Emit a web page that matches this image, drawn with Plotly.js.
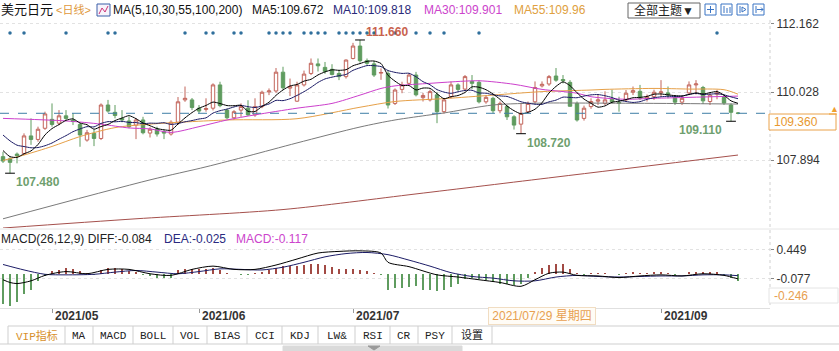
<!DOCTYPE html>
<html><head><meta charset="utf-8">
<script src="https://cdn.plot.ly/plotly-3.0.1.min.js"></script>
<style>html,body{margin:0;padding:0;background:#fff;}#chart{width:839px;height:351px;}</style>
</head><body><div id="chart"></div>
<script>
// ---------------- DATA ----------------
const dates = [
"2021-04-22","2021-04-23","2021-04-26","2021-04-27","2021-04-28","2021-04-29","2021-04-30",
"2021-05-03","2021-05-04","2021-05-05","2021-05-06","2021-05-07","2021-05-10","2021-05-11","2021-05-12","2021-05-13","2021-05-14","2021-05-17","2021-05-18","2021-05-19","2021-05-20","2021-05-21","2021-05-24","2021-05-25","2021-05-26","2021-05-27","2021-05-28","2021-05-31",
"2021-06-01","2021-06-02","2021-06-03","2021-06-04","2021-06-07","2021-06-08","2021-06-09","2021-06-10","2021-06-11","2021-06-14","2021-06-15","2021-06-16","2021-06-17","2021-06-18","2021-06-21","2021-06-22","2021-06-23","2021-06-24","2021-06-25","2021-06-28","2021-06-29","2021-06-30",
"2021-07-01","2021-07-02","2021-07-05","2021-07-06","2021-07-07","2021-07-08","2021-07-09","2021-07-12","2021-07-13","2021-07-14","2021-07-15","2021-07-16","2021-07-19","2021-07-20","2021-07-21","2021-07-22","2021-07-23","2021-07-26","2021-07-27","2021-07-28","2021-07-29","2021-07-30",
"2021-08-02","2021-08-03","2021-08-04","2021-08-05","2021-08-06","2021-08-09","2021-08-10","2021-08-11","2021-08-12","2021-08-13","2021-08-16","2021-08-17","2021-08-18","2021-08-19","2021-08-20","2021-08-23","2021-08-24","2021-08-25","2021-08-26","2021-08-27","2021-08-30","2021-08-31",
"2021-09-01","2021-09-02","2021-09-03","2021-09-06","2021-09-07","2021-09-08","2021-09-09","2021-09-10","2021-09-13","2021-09-14","2021-09-15","2021-09-16"];

const open = [108.00,107.93,108.08,108.10,108.65,108.54,108.89,
109.17,109.05,109.28,109.15,109.01,108.52,108.73,108.57,109.62,109.39,109.20,109.12,108.99,109.15,108.74,108.87,108.78,108.71,109.08,109.78,109.78,
109.52,109.48,109.52,110.25,109.46,109.22,109.46,109.52,109.31,109.57,110.03,110.06,110.65,110.15,109.74,110.25,110.61,110.91,110.80,110.74,110.61,110.51,
111.08,111.47,111.01,110.91,110.62,110.61,109.67,110.11,110.30,110.56,109.85,109.78,109.94,109.41,109.88,110.25,110.12,110.36,110.33,109.72,109.83,109.44,
109.57,109.25,109.02,109.41,109.72,110.22,110.28,110.53,110.42,110.33,109.67,109.20,109.57,109.74,109.67,109.80,109.70,109.78,110.02,110.05,109.83,109.88,
110.00,110.00,109.86,109.71,110.00,110.25,110.17,109.73,109.96,109.86,109.62,109.37];
const high = [108.15,107.98,108.13,108.73,109.20,108.94,109.41,
109.67,109.46,109.46,109.36,109.05,108.84,108.84,109.67,109.78,109.62,109.46,109.25,109.20,109.25,108.92,108.94,108.84,109.14,109.87,110.20,109.84,
109.62,109.83,110.30,110.35,109.50,109.46,109.67,109.77,109.83,110.07,110.14,110.78,110.82,110.45,110.35,110.70,111.08,111.08,110.97,110.90,110.72,111.05,
111.57,111.66,111.08,111.00,110.77,110.70,110.14,110.35,110.61,110.66,110.00,110.10,110.03,109.84,110.36,110.30,110.56,110.56,110.40,109.93,109.88,109.73,
109.62,109.30,109.68,109.73,110.36,110.36,110.56,110.78,110.56,110.40,109.73,109.60,109.83,109.95,110.05,110.10,109.88,110.09,110.20,110.25,109.95,110.10,
110.40,110.20,109.93,109.90,110.36,110.40,110.22,109.98,110.10,109.95,109.67,109.40];
const low = [107.80,107.48,107.79,108.05,108.37,108.47,108.84,
108.94,108.99,109.15,108.99,108.31,108.47,108.33,108.52,109.38,109.20,109.08,108.89,108.55,108.70,108.60,108.63,108.55,108.66,109.00,109.72,109.46,
109.36,109.41,109.45,109.55,109.18,109.15,109.25,109.28,109.25,109.52,109.93,110.00,110.10,109.90,109.72,110.20,110.56,110.67,110.60,110.55,110.40,110.45,
111.05,110.95,110.88,110.50,110.41,109.51,109.62,109.99,110.25,109.89,109.73,109.73,109.05,109.35,109.83,110.05,110.05,110.12,109.67,109.66,109.36,109.36,
109.15,108.85,108.72,109.36,109.67,110.17,110.22,110.35,110.30,109.57,109.10,109.13,109.50,109.62,109.62,109.67,109.41,109.73,109.93,109.78,109.73,109.78,
109.88,109.83,109.62,109.62,109.93,109.95,109.65,109.62,109.80,109.62,109.11,109.33];
const close = [107.86,107.82,108.03,108.65,108.54,108.86,109.34,
109.01,109.28,109.20,109.10,108.68,108.75,108.57,109.62,109.43,109.29,109.15,108.94,109.15,108.75,108.86,108.71,108.74,109.08,109.72,109.83,109.54,
109.43,109.51,110.25,109.60,109.22,109.41,109.57,109.31,109.57,110.02,110.06,110.65,110.16,110.20,110.25,110.59,110.93,110.85,110.67,110.58,110.51,111.03,
111.47,111.01,110.93,110.56,110.64,109.62,110.09,110.25,110.56,109.94,109.92,110.04,109.41,109.78,110.25,110.11,110.51,110.30,109.72,109.86,109.44,109.67,
109.25,108.99,109.36,109.67,110.17,110.27,110.51,110.40,110.38,109.58,109.15,109.52,109.73,109.78,109.78,109.72,109.68,109.99,110.07,109.83,109.88,110.02,
110.03,109.93,109.71,109.83,110.25,110.28,109.75,109.93,110.00,109.68,109.39,109.36];
// closes before the visible window (seed for MA5 / MA10)
const priorCloses = [109.65,109.39,109.07,108.93,108.78,108.78,108.15,108.09,108.08];

// long moving averages (candle number, value)
const ma30K = [1,10,15,19,22,25,29,33,37,43,48,52,55,57,62,64,69,74,78,83,85,90,94,99,106];
const ma30V = [109.20,109.12,109.02,108.90,108.87,108.76,108.94,109.15,109.31,109.52,109.67,109.93,110.14,110.22,110.30,110.33,110.38,110.27,110.11,109.99,109.88,109.80,109.83,109.86,109.90];
const ma55K = [1,4,8,12,17,22,33,43,52,57,64,71,78,85,87,94,99,104,106];
const ma55V = [107.88,108.05,108.32,108.63,108.91,109.02,109.15,109.19,109.55,109.73,109.82,109.93,110.04,110.09,110.11,110.14,110.12,110.10,109.96];
const ma100K = [1,22,30,36,43,52,57,62,64,71,78,85,95,106];
const ma100V = [106.05,107.27,107.68,108.02,108.43,108.93,109.15,109.31,109.37,109.62,109.68,109.68,109.67,109.65];
const ma200K = [1,20,41,60,80,106];
const ma200V = [105.76,106.05,106.34,106.83,107.36,108.05];

// MACD histogram, one per candle
const macdHist = [-0.55,-0.58,-0.51,-0.37,-0.28,-0.13,-0.04,0.06,0.07,0.11,0.09,0.06,0.02,-0.02,0.07,0.11,0.11,0.09,0.06,0.04,
-0.02,-0.04,-0.06,-0.07,-0.06,0.07,0.09,0.09,0.09,0.09,0.11,0.07,0.02,0.01,-0.02,-0.01,0.02,0.04,0.07,0.11,
0.15,0.15,0.15,0.17,0.18,0.18,0.17,0.13,0.09,0.09,0.09,0.07,0.06,0.02,-0.02,-0.28,-0.26,-0.26,-0.24,-0.22,
-0.28,-0.29,-0.31,-0.29,-0.24,-0.17,-0.09,-0.07,-0.09,-0.11,-0.15,-0.17,-0.18,-0.20,-0.18,-0.07,0.04,0.11,0.17,0.18,
0.18,0.09,0.02,-0.02,0.02,0.02,0.02,0.00,-0.02,0.02,0.04,0.02,0.02,0.04,0.04,0.02,-0.02,0.00,0.04,0.05,
0.04,0.04,0.04,-0.02,-0.06,-0.117];
const deaK = [1,4,7,10,14,17,20,23,26,29,32,35,38,41,44,47,50,53,56,59,62,65,68,71,74,77,80,83,86,89,92,95,98,101,104,106];
const deaV = [0.18,0.08,0.0,-0.01,0.0,0.04,0.07,0.04,0.01,0.05,0.10,0.09,0.08,0.13,0.22,0.32,0.38,0.40,0.36,0.26,0.15,0.03,-0.04,-0.07,-0.12,-0.12,-0.05,-0.02,-0.04,-0.05,-0.04,-0.03,-0.03,-0.01,-0.01,-0.025];
const diffK = [1,2,3,5,7,10,13,16,19,22,25,28,31,34,37,40,43,46,49,52,55,56,59,63,66,69,72,75,77,79,81,83,86,89,92,95,98,101,104,106];
const diffV = [-0.10,-0.15,-0.17,-0.12,-0.02,0.05,0.01,0.09,0.09,0.01,-0.02,0.09,0.15,0.09,0.09,0.17,0.28,0.39,0.42,0.43,0.39,0.22,0.14,-0.01,-0.05,-0.10,-0.15,-0.22,-0.10,0.02,0.04,-0.02,-0.03,-0.06,-0.03,-0.01,-0.03,0.01,-0.02,-0.084];

// signal dots along the top (candle numbers)
const signalK = [2,4,10,16,17,27,30,31,34,35,39,40,41,42,44,45,46,47,49,50,51,52,53,54,57,60,62,64,69,103];

// texts
const priceTicks = [107.894,110.028,112.162];
const priceTickText = ["107.894","110.028","112.162"];
const macdTicks = [0.449,-0.077];
const macdTickText = ["0.449","-0.077"];
const monthTickDates = ["2021-05-03","2021-06-01","2021-07-01","2021-09-01"];
const monthTickText = ["2021/05","2021/06","2021/07","2021/09"];
const maLegend = ["MA5:109.672","MA10:109.818","MA30:109.901","MA55:109.96"];
const macdLegend = ["MACD(26,12,9) DIFF:-0.084","DEA:-0.025","MACD:-0.117"];
const extremes = [{k:2,v:107.480,type:"low"},{k:52,v:111.660,type:"high"},{k:75,v:108.720,type:"low"},{k:105,v:109.110,type:"low"}];
const tabs = ["VIP指标","MA","MACD","BOLL","VOL","BIAS","CCI","KDJ","LW&amp;","RSI","CR","PSY","设置"];

// ---------------- BUILD ----------------
const W = 839, H = 351;
const PX = x => x / W, PY = y => 1 - y / H;
const FONT = "Liberation Sans, Arial, sans-serif";
const CJK = "Liberation Sans, Noto Sans CJK SC, sans-serif";
const kx = k => dates[k - 1];

const allCloses = priorCloses.concat(close);
function movingAvg(n) {
  return close.map((_, i) => {
    const end = i + priorCloses.length + 1;
    const w = allCloses.slice(end - n, end);
    return w.reduce((a, b) => a + b, 0) / w.length;
  });
}
const ma5 = movingAvg(5), ma10 = movingAvg(10);

const traces = [];
traces.push({type:"candlestick", x:dates, open, high, low, close, xaxis:"x", yaxis:"y",
  increasing:{line:{color:"#c2645a", width:1}, fillcolor:"#ffffff"},
  decreasing:{line:{color:"#5f9c5f", width:1}, fillcolor:"#5f9c5f"},
  whiskerwidth:0, hoverinfo:"skip", showlegend:false});

function sparseLine(K, V, color, yaxis) {
  return {type:"scatter", mode:"lines", x:K.map(kx), y:V, yaxis:yaxis||"y",
    line:{color, width:1, shape:"spline", smoothing:0.8}, hoverinfo:"skip", showlegend:false};
}
traces.push(sparseLine(ma200K, ma200V, "#a5504c"));
traces.push(sparseLine(ma100K, ma100V, "#7a7a7a"));
traces.push(sparseLine(ma55K, ma55V, "#e6a048"));
traces.push(sparseLine(ma30K, ma30V, "#cc3fcc"));
traces.push({type:"scatter", mode:"lines", x:dates, y:ma10, line:{color:"#1c1c66", width:1, shape:"spline", smoothing:0.6}, hoverinfo:"skip", showlegend:false});
traces.push({type:"scatter", mode:"lines", x:dates, y:ma5, line:{color:"#000000", width:1, shape:"spline", smoothing:0.6}, hoverinfo:"skip", showlegend:false});

// extreme "+" markers
traces.push({type:"scatter", mode:"markers", x:extremes.map(e => kx(e.k)), y:extremes.map(e => e.v),
  marker:{symbol:"line-ew", size:7, line:{width:1, color:"#000"}}, hoverinfo:"skip", showlegend:false});

// signal dots (drawn along the top band)
traces.push({type:"scatter", mode:"markers", x:signalK.map(kx), y:signalK.map(() => 111.88),
  marker:{size:3.5, color:"#2f6f9c"}, hoverinfo:"skip", showlegend:false});

// MACD
traces.push({type:"bar", x:dates, y:macdHist, yaxis:"y2", width:0.16,
  marker:{color:macdHist.map(v => v >= 0 ? "#a24a44" : "#5f9c5f"), line:{width:0}}, hoverinfo:"skip", showlegend:false});
traces.push(sparseLine(deaK, deaV, "#1c1c66", "y2"));
traces.push(sparseLine(diffK, diffV, "#000000", "y2"));

// ---------------- LAYOUT ----------------
const annotations = [];
function txt(text, x, y, color, size, extra) {
  annotations.push(Object.assign({text, x:PX(x), y:PY(y), xref:"paper", yref:"paper",
    xanchor:"left", yanchor:"middle", showarrow:false, borderpad:0,
    font:{family:FONT, size:size || 12, color:color || "#222"}}, extra || {}));
}
// top legend row
txt("美元日元", 0, 10, "#111", 13, {font:{family:CJK, size:13, color:"#111"}});
txt("&lt;日线&gt;", 55, 10, "#e0983c", 11, {font:{family:CJK, size:11, color:"#e0983c"}});
txt("MA(5,10,30,55,100,200)", 112, 10, "#111", 12);
txt(maLegend[0], 251, 10, "#111", 12);
txt(maLegend[1], 332, 10, "#2a2a7a", 12);
txt(maLegend[2], 423, 10, "#cc44cc", 12);
txt(maLegend[3], 513, 10, "#e0a040", 12);
txt("全部主题▼", 664, 10.5, "#222", 12, {xanchor:"center", font:{family:CJK, size:12, color:"#222"}});

// MACD legend
txt(macdLegend[0], 0, 239, "#222", 12);
txt(macdLegend[1], 163, 239, "#2a2a80", 12);
txt(macdLegend[2], 235, 239, "#cc44cc", 12);

// extreme labels
extremes.forEach(e => {
  const isHigh = e.type === "high";
  const right = e.k > 100;
  annotations.push({text:"<b>" + e.v.toFixed(3) + "</b>", x:e.k - 1, y:e.v, xref:"x", yref:"y",
    xanchor:right ? "right" : "left", yanchor:"middle", xshift:right ? -7 : 4, yshift:isHigh ? 8 : -9,
    showarrow:false, font:{family:FONT, size:12, color:isHigh ? "#c8624e" : "#6f9f6f"}});
});

// month labels
monthTickDates.forEach((d, i) => {
  annotations.push({text:"<b>" + monthTickText[i] + "</b>", x:dates.indexOf(d), y:PY(316), xref:"x", yref:"paper",
    xanchor:"left", yanchor:"middle", xshift:1, showarrow:false, font:{family:FONT, size:12, color:"#333"}});
});

// right value boxes
const lastPrice = close[close.length - 1];
txt(lastPrice.toFixed(3), 773, 122, "#e8982e", 12);
txt("▲", 829, 109, "#f0a030", 9);
txt("-0.246", 773, 296, "#e8a050", 12);

// toolbar
const tabEdges = [8,65,93,133,173,207,247,282,318,355,390,418,452,492];
tabs.forEach((t, i) => {
  const cx = (tabEdges[i] + tabEdges[i + 1]) / 2;
  annotations.push({text:t, x:PX(cx), y:PY(335.5), xref:"paper", yref:"paper", xanchor:"center", yanchor:"middle",
    showarrow:false, font:{family:"Liberation Mono, Noto Sans CJK SC, monospace", size:11, color:i === 0 ? "#d8902c" : "#222"}});
});

// crosshair date label (on top)
annotations.push({text:"2021/07/29 星期四", x:PX(542), y:PY(315.5), xref:"paper", yref:"paper", xanchor:"center", yanchor:"middle",
  showarrow:false, bgcolor:"#fffcf6", bordercolor:"#f1ddc2", borderwidth:1, borderpad:1, width:104,
  font:{family:CJK, size:12, color:"#e8a050"}});

const shapes = [];
function pline(x0, y0, x1, y1, color, width, dash) {
  shapes.push({type:"line", xref:"paper", yref:"paper", x0:PX(x0), y0:PY(y0), x1:PX(x1), y1:PY(y1),
    line:{color, width:width || 1, dash:dash || "solid"}});
}
function prect(x0, y0, x1, y1, color, fill) {
  shapes.push({type:"rect", xref:"paper", yref:"paper", x0:PX(x0), y0:PY(y1), x1:PX(x1), y1:PY(y0),
    line:{color, width:1}, fillcolor:fill || "rgba(0,0,0,0)"});
}
function ppath(d, color, fill) {
  shapes.push({type:"path", xref:"paper", yref:"paper", path:d.replace(/(-?\d+(\.\d+)?) (-?\d+(\.\d+)?)/g, (m, a, b, c) => PX(+a) + "," + PY(+c)),
    line:{color, width:1}, fillcolor:fill || "rgba(0,0,0,0)"});
}
// current price dashed line
shapes.push({type:"line", xref:"paper", yref:"y", x0:0, x1:PX(770), y0:lastPrice, y1:lastPrice,
  line:{color:"#3f7fa6", width:1, dash:"dash"}});
// separators
pline(770, 20, 770, 307, "#d0d0d0", 1, "dot");
pline(0, 229, 839, 229, "#e6e6e6", 1);
// price label box
prect(769, 114, 836, 130, "#eaa24a", "#ffffff");
pline(829, 114, 837, 114, "#f0a030", 1);
// macd label box
prect(769, 288, 838, 303, "#e4e4e4", "#ffffff");
// MA icon
prect(97, 4, 110, 16, "#3b5fa8", "#f7f3fb");
ppath("M 99 14 L 102 8 L 105 12 L 108 6", "#cc3377");
// theme box and icons
prect(628, 3, 700, 18, "#666666", "rgba(0,0,0,0)");
[705, 721, 737, 753].forEach(x => prect(x, 4, x + 11, 15, "#3a74c4", "#ffffff"));
ppath("M 710.5 6 L 710.5 13 M 707 9.5 L 714 9.5", "#3a74c4");
ppath("M 724 6 L 724 13 M 727 8 L 727 13 M 730 7 L 730 13", "#3a74c4");
ppath("M 740 6 L 740 13 M 742 7 L 746 9.5 L 742 12 Z", "#3a74c4");
ppath("M 756 6 L 756 13 M 757 9.5 L 763 9.5 M 761 7.5 L 763 9.5 L 761 11.5", "#3a74c4");
// toolbar
pline(8, 326, 839, 326, "#cfcfcf", 1);
pline(0, 344, 839, 344, "#cfcfcf", 1);
tabEdges.forEach(x => pline(x, 326, x, 344, "#cfcfcf", 1));
prect(283, 346, 462, 351, "#dadada", "#dadada");
ppath("M 368 346 L 380 346 L 374 350 Z", "#9a9a9a", "#9a9a9a");

const layout = {
  width:W, height:H, margin:{l:0, r:0, t:0, b:0}, paper_bgcolor:"#ffffff", plot_bgcolor:"#ffffff",
  showlegend:false, dragmode:false,
  xaxis:{type:"category", domain:[0, PX(770)], range:[-0.43, 109.57], anchor:"y2",
    rangeslider:{visible:false}, showgrid:false, zeroline:false, showticklabels:false,
    tickmode:"array", tickvals:monthTickDates, ticks:"outside", ticklen:4, tickcolor:"#999",
    showline:true, linecolor:"#e0e0e0", fixedrange:true},
  yaxis:{domain:[PY(228), PY(20)], range:[105.761, 112.287], side:"right", anchor:"x",
    tickmode:"array", tickvals:priceTicks, ticktext:priceTickText, ticks:"outside", ticklen:3, tickcolor:"#888",
    tickfont:{family:FONT, size:12, color:"#333"}, showgrid:true, gridcolor:"#e2e2e2", griddash:"dot",
    zeroline:false, showline:false, fixedrange:true},
  yaxis2:{domain:[PY(308), PY(243)], range:[-0.618, 0.574], side:"right", anchor:"x",
    tickmode:"array", tickvals:macdTicks, ticktext:macdTickText, ticks:"outside", ticklen:3, tickcolor:"#888",
    tickfont:{family:FONT, size:12, color:"#333"}, showgrid:true, gridcolor:"#e2e2e2", griddash:"dot",
    zeroline:false, showline:false, fixedrange:true},
  bargap:0, annotations, shapes
};

Plotly.newPlot("chart", traces, layout, {staticPlot:true, displayModeBar:false});
</script>
</body></html>
